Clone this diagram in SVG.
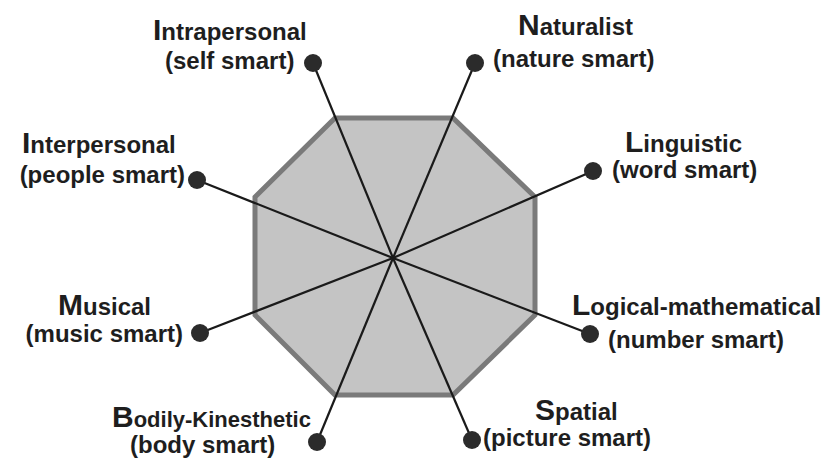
<svg xmlns="http://www.w3.org/2000/svg" width="832" height="463" viewBox="0 0 832 463">
<style>
text{font-family:"Liberation Sans",Arial,sans-serif;font-weight:bold;font-size:24px;fill:#1e1e1e}
.cap{font-size:30px}
.end{text-anchor:end}
.sm{font-size:22px}
.dot{fill:#2b2b2b}
#connectors line{stroke:#1a1a1a;stroke-width:2.2}
</style>
<rect width="832" height="463" fill="#fff"/>
<g id="octagon">
<polygon points="335,118 453,118 535,197 535,315 453,395 335,395 255,315 255,197" fill="#c4c4c4" stroke="#7a7a7a" stroke-width="5" stroke-linejoin="miter"/>
</g>
<g id="connectors">
<line x1="393" y1="258" x2="313" y2="63"/>
<line x1="393" y1="258" x2="475" y2="63"/>
<line x1="393" y1="258" x2="197" y2="180"/>
<line x1="393" y1="258" x2="593" y2="171"/>
<line x1="393" y1="258" x2="200" y2="333"/>
<line x1="393" y1="258" x2="590" y2="334"/>
<line x1="393" y1="258" x2="317" y2="442"/>
<line x1="393" y1="258" x2="472" y2="440"/>
</g>
<g id="intrapersonal">
<circle class="dot" cx="313" cy="63" r="9"/>
<text x="153" y="40"><tspan class="cap">I</tspan>ntrapersonal</text>
<text x="165" y="69">(self smart)</text>
</g>
<g id="naturalist">
<circle class="dot" cx="475" cy="63" r="9"/>
<text x="518" y="35"><tspan class="cap">N</tspan>aturalist</text>
<text x="493" y="67">(nature smart)</text>
</g>
<g id="interpersonal">
<circle class="dot" cx="197" cy="180" r="9"/>
<text x="22" y="153"><tspan class="cap">I</tspan>nterpersonal</text>
<text class="end" x="185" y="183">(people smart)</text>
</g>
<g id="linguistic">
<circle class="dot" cx="593" cy="171" r="9"/>
<text x="625" y="152"><tspan class="cap">L</tspan>inguistic</text>
<text x="612" y="178">(word smart)</text>
</g>
<g id="musical">
<circle class="dot" cx="200" cy="333" r="9"/>
<text x="58" y="315"><tspan class="cap">M</tspan>usical</text>
<text class="end" x="183" y="342">(music smart)</text>
</g>
<g id="logical">
<circle class="dot" cx="590" cy="334" r="9"/>
<text x="572" y="315"><tspan class="cap">L</tspan>ogical-mathematical</text>
<text x="608" y="348">(number smart)</text>
</g>
<g id="bodily">
<circle class="dot" cx="317" cy="442" r="9"/>
<text class="sm" x="112" y="427"><tspan class="cap">B</tspan>odily-Kinesthetic</text>
<text x="130" y="453">(body smart)</text>
</g>
<g id="spatial">
<circle class="dot" cx="472" cy="440" r="9"/>
<text x="535" y="420"><tspan class="cap">S</tspan>patial</text>
<text x="483" y="446">(picture smart)</text>
</g>
</svg>
